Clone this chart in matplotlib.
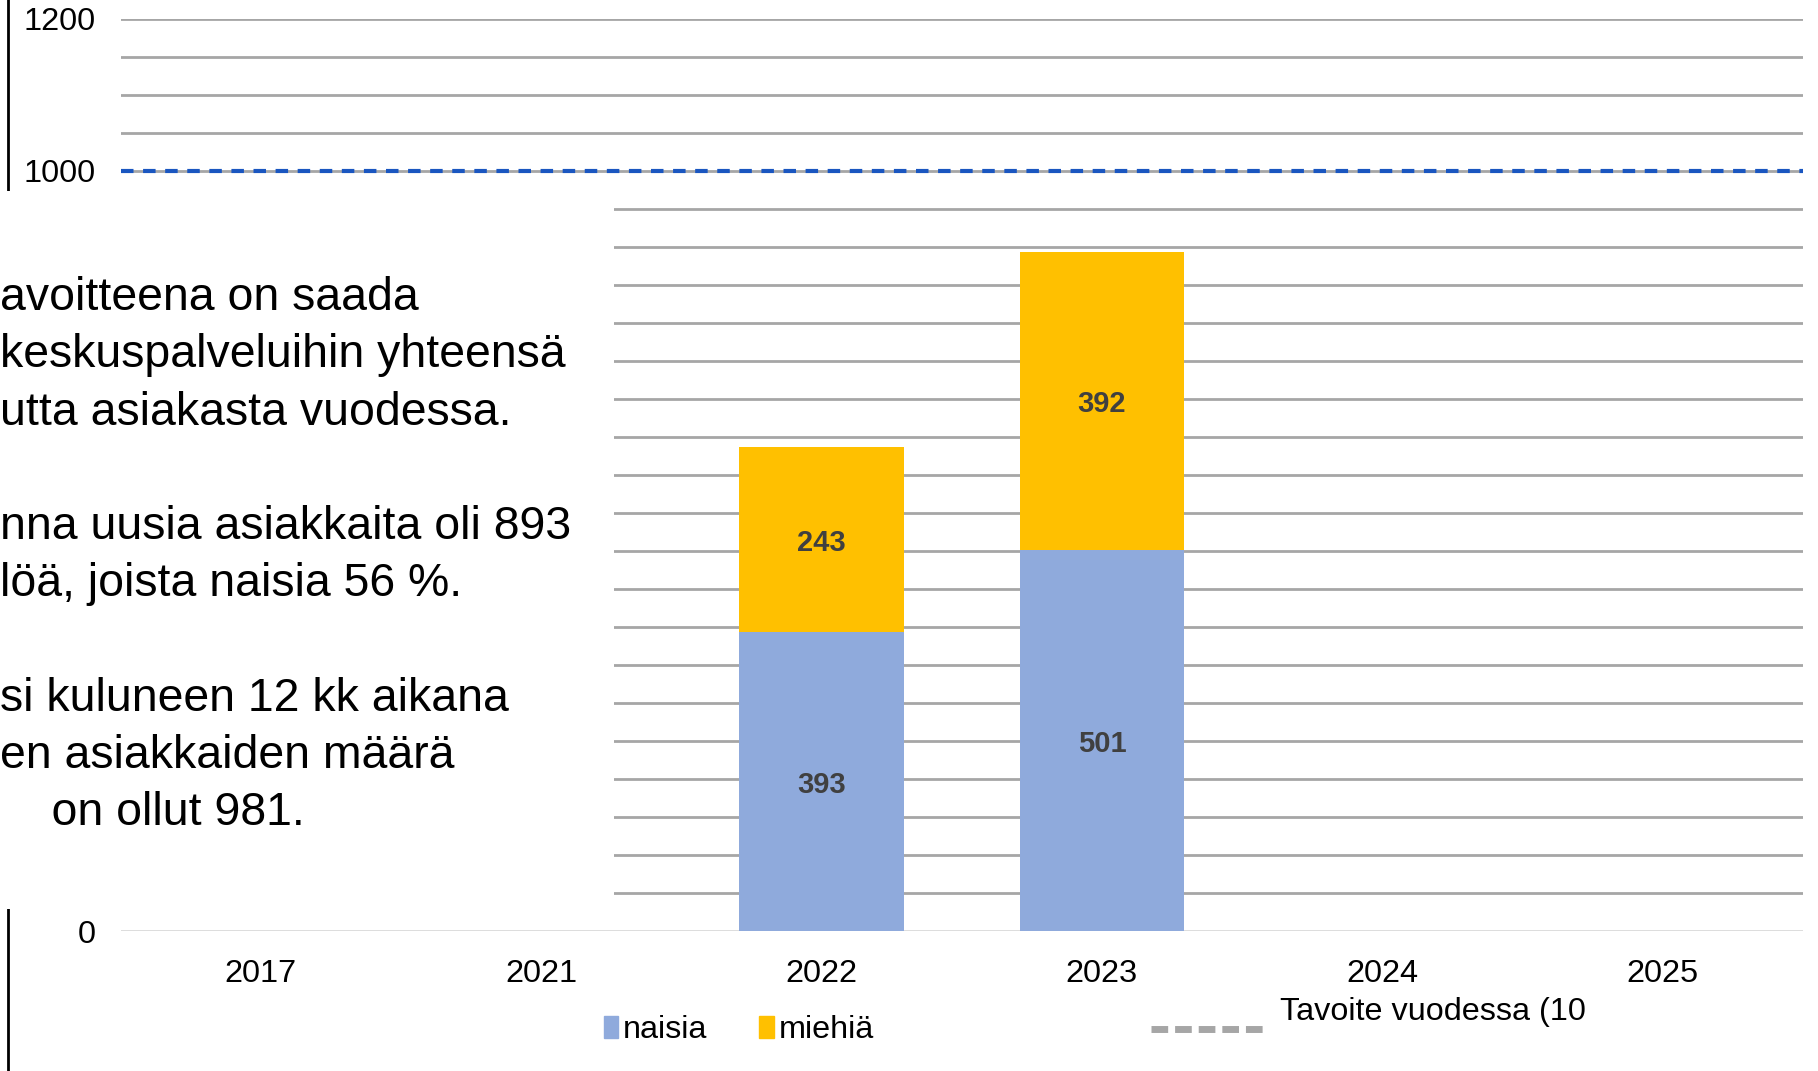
import matplotlib
matplotlib.use("Agg")
import matplotlib.pyplot as plt
from matplotlib.lines import Line2D
from matplotlib.patches import Rectangle, Patch
import numpy as np

plt.rcParams['font.family'] = ['Liberation Sans', 'DejaVu Sans']

years = ['2017', '2021', '2022', '2023', '2024', '2025']
naisia = [0, 0, 393, 501, 0, 0]
miehia = [0, 0, 243, 392, 0, 0]
tavoite = 1000
ytick_labels = [0, 1000, 1200]

info_lines = [
    "avoitteena on saada",
    "keskuspalveluihin yhteensä",
    "utta asiakasta vuodessa.",
    "",
    "nna uusia asiakkaita oli 893",
    "löä, joista naisia 56 %.",
    "",
    "si kuluneen 12 kk aikana",
    "en asiakkaiden määrä",
    "    on ollut 981.",
]

c_nais = '#8FAADC'
c_mies = '#FFC000'

fig = plt.figure(figsize=(18.18, 10.71), dpi=100)
ax = fig.add_axes([0.0663, 0.1307, 0.9254, 0.852])

x = np.arange(len(years))
w = 0.587
ax.bar(x, naisia, w, color=c_nais, zorder=3, label='naisia')
ax.bar(x, miehia, w, bottom=naisia, color=c_mies, zorder=3, label='miehiä')

# data labels, nudged down a little like in the original
for i in range(len(years)):
    if naisia[i] > 0:
        ax.annotate(str(naisia[i]), (x[i], naisia[i] / 2), xytext=(0, -2.5),
                    textcoords='offset points', ha='center', va='center',
                    fontsize=21, fontweight='bold', color='#404040', zorder=4)
    if miehia[i] > 0:
        ax.annotate(str(miehia[i]), (x[i], naisia[i] + miehia[i] / 2), xytext=(0, -2.5),
                    textcoords='offset points', ha='center', va='center',
                    fontsize=21, fontweight='bold', color='#404040', zorder=4)

ax.axhline(tavoite, color='#1A56C0', lw=3, ls=(0, (3, 2.3)), zorder=4)

ax.set_xlim(-0.5, len(years) - 0.5)
ax.set_ylim(0, 1200)
ax.set_xticks(x)
ax.set_xticklabels(years, fontsize=23.4)
ax.set_yticks(ytick_labels)
ax.set_yticklabels([str(v) for v in ytick_labels], fontsize=23.4)
ax.set_yticks(np.arange(0, 1201, 50), minor=True)
ax.tick_params(axis='both', which='both', length=0)
ax.tick_params(axis='y', pad=18)
ax.tick_params(axis='x', pad=20.5)
ax.grid(axis='y', which='both', color='#A6A6A6', lw=2, zorder=1)
ax.get_ygridlines()[0].set_color('#D9D9D9')
for s in ax.spines.values():
    s.set_visible(False)

fig.legend(handles=[Patch(color=c_nais, label='naisia'), Patch(color=c_mies, label='miehiä')],
           loc='center left', bbox_to_anchor=(0.316, 0.038), ncol=2, frameon=False,
           fontsize=23.3, handlelength=0.45, handleheight=0.7, handletextpad=0.15,
           columnspacing=1.6)
fig.legend(handles=[Line2D([], [], color='#A6A6A6', lw=5, ls=(0, (2.4, 1)))],
           labels=['Tavoite vuodessa (10\n '],
           loc='center left', bbox_to_anchor=(0.617, 0.039), frameon=False,
           fontsize=23.3, handlelength=3.6, handletextpad=0.4)

# slide border line and white text box over the left part
fig.add_artist(Line2D([0.0045, 0.0045], [0, 1], color='black', lw=2, zorder=5))
fig.add_artist(Rectangle((0, 1 - 909 / 1071), 614 / 1818, (909 - 191) / 1071,
                         transform=fig.transFigure, facecolor='white',
                         edgecolor='none', zorder=6))

fig.text(0.0, 1 - 276 / 1071, "\n".join(info_lines), fontsize=33.4, va='top', ha='left',
         color='black', linespacing=1.39, zorder=7)

fig.savefig('out.png', dpi=100)
